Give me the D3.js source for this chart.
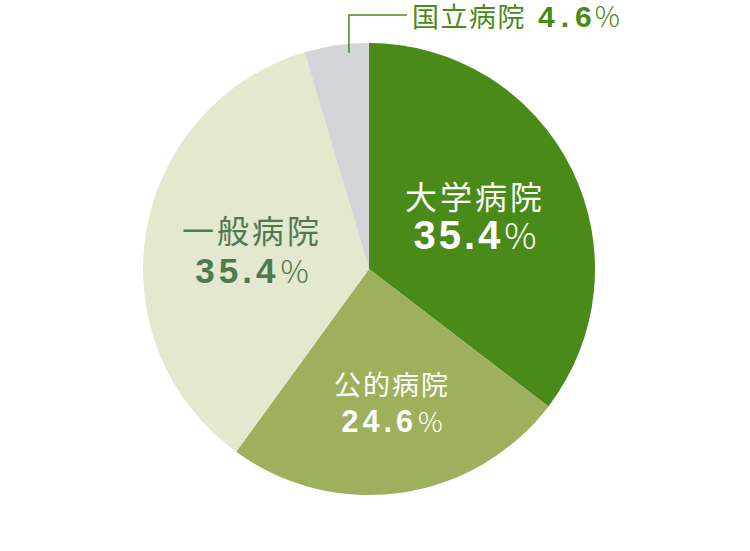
<!DOCTYPE html>
<html>
<head>
<meta charset="utf-8">
<script src="https://cdn.jsdelivr.net/npm/d3@7"></script>
<style>
  body { margin: 0; background: #fff; }
  svg { display: block; }
</style>
</head>
<body>
<div id="chart"></div>
<script>
// slices, clockwise from 12 o'clock
const categories = ['大学病院', '公的病院', '一般病院', '国立病院'];
const shares = [35.4, 24.6, 35.4, 4.6];
const valueLabels = ['35.4', '24.6', '35.4', '4.6'];
const colors = ['#4a8a18', '#9eb05b', '#e3e8cf', '#d4d5d8'];

const width = 750;
const height = 551;
const cx = 369, cy = 269, radius = 226;

const svg = d3.select('#chart').append('svg')
    .attr('width', width)
    .attr('height', height);

const g = svg.append('g')
    .attr('transform', 'translate(' + cx + ',' + cy + ')');

const pie = d3.pie().sort(null).value((d) => d.value);
const arcs = pie(categories.map((c, i) => ({name: c, value: shares[i], label: valueLabels[i], color: colors[i]})));

const arc = d3.arc().innerRadius(0).outerRadius(radius);

g.selectAll('path.slice')
    .data(arcs)
    .enter()
  .append('path')
    .attr('class', 'slice')
    .attr('d', arc)
    .attr('fill', (d) => d.data.color);

// label placement for the three big slices (offset from centre, font sizes, colour)
const labelStyle = {
    '大学病院': {x: 106, y: 209 - cy, nameSize: 32, nameSp: 3, numSize: 40, numSp: 3, gap: 40, color: '#ffffff'},
    '公的病院': {x: 23, y: 395 - cy, nameSize: 27, nameSp: 2, numSize: 30.5, numSp: 4, gap: 37, color: '#ffffff'},
    '一般病院': {x: -117, y: 243 - cy, nameSize: 32, nameSp: 3, numSize: 35, numSp: 4, gap: 40, color: '#4e7a50'}
};

const labels = g.selectAll('g.label')
    .data(arcs.filter((d) => labelStyle[d.data.name]))
    .enter()
  .append('g')
    .attr('class', 'label')
    .attr('transform', (d) => {
        const s = labelStyle[d.data.name];
        return 'translate(' + s.x + ',' + s.y + ')';
    });

labels.append('text')
    .attr('text-anchor', 'middle')
    .style('font-family', '"Noto Sans CJK JP", sans-serif')
    .style('font-weight', 400)
    .style('font-size', (d) => labelStyle[d.data.name].nameSize + 'px')
    .style('letter-spacing', (d) => labelStyle[d.data.name].nameSp + 'px')
    .attr('fill', (d) => labelStyle[d.data.name].color)
    .text((d) => d.data.name);

const num = labels.append('text')
    .attr('text-anchor', 'middle')
    .attr('y', (d) => labelStyle[d.data.name].gap)
    .attr('fill', (d) => labelStyle[d.data.name].color);

num.append('tspan')
    .style('font-family', '"Liberation Sans", Arial, sans-serif')
    .style('font-weight', 'bold')
    .style('font-size', (d) => labelStyle[d.data.name].numSize + 'px')
    .style('letter-spacing', (d) => labelStyle[d.data.name].numSp + 'px')
    .text((d) => d.data.label);

num.append('tspan')
    .attr('dx', 1)
    .style('font-family', '"Noto Sans CJK JP", sans-serif')
    .style('font-weight', 300)
    .style('font-size', (d) => (labelStyle[d.data.name].numSize * 0.9) + 'px')
    .text('%');

// small slice: leader line to an outside label
const small = arcs[3];
const anchorAngle = small.startAngle + 0.68 * (small.endAngle - small.startAngle);
const ax = Math.sin(anchorAngle) * radius * 0.96;
const ay = -Math.cos(anchorAngle) * radius * 0.96;
const lineY = 15 - cy;
const lineEndX = 407 - cx;

g.append('path')
    .attr('d', 'M' + ax + ',' + ay + 'V' + lineY + 'H' + lineEndX)
    .attr('fill', 'none')
    .attr('stroke', colors[0])
    .attr('stroke-width', 1.5);

const outside = g.append('text')
    .attr('x', lineEndX + 5)
    .attr('y', 27 - cy)
    .attr('fill', colors[0]);

outside.append('tspan')
    .style('font-family', '"Noto Sans CJK JP", sans-serif')
    .style('font-size', '27px')
    .style('letter-spacing', '1.5px')
    .text(small.data.name);

outside.append('tspan')
    .attr('dx', 12)
    .style('font-family', '"Liberation Sans", Arial, sans-serif')
    .style('font-weight', 'bold')
    .style('font-size', '30px')
    .style('letter-spacing', '6px')
    .text(small.data.label);

outside.append('tspan')
    .attr('dx', -3)
    .style('font-family', '"Noto Sans CJK JP", sans-serif')
    .style('font-weight', 300)
    .style('font-size', '28px')
    .text('%');
</script>
</body>
</html>
